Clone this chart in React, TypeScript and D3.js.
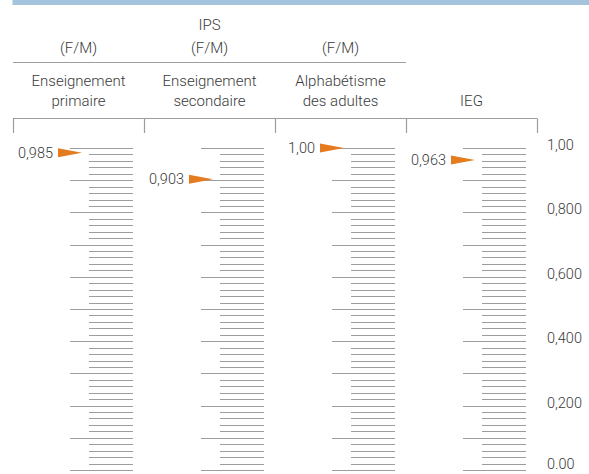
import React from "react";
import * as d3 from "d3";

const width = 589;
const height = 474;

const columns = ["primaire", "secondaire", "alpha", "ieg"];
const columnLabels = [
  ["Enseignement", "primaire"],
  ["Enseignement", "secondaire"],
  ["Alphabétisme", "des adultes"],
  ["IEG"],
];
const values = [0.985, 0.903, 1.0, 0.963];
const valueLabels = ["0,985", "0,903", "1,00", "0,963"];
const axisTicks = [1.0, 0.8, 0.6, 0.4, 0.2, 0];
const axisLabels = ["1,00", "0,800", "0,600", "0,400", "0,200", "0.00"];

const textColor = "#3a3a3a";
const lineColor = "#9d9d9d";
const arrowColor = "#e57b1f";
const fontFamily = "Roboto, 'Liberation Sans', sans-serif";

export default function App() {
  const x = d3.scaleBand().domain(columns).range([13, 537]);
  const y = d3.scaleLinear().domain([0, 1]).range([470, 148]);
  const minorTicks = d3.range(0, 51).map((i) => i / 50);

  return (
    <svg
      width={width}
      height={height}
      style={{ position: "absolute", left: 0, top: 0, background: "#fff" }}
      fontFamily={fontFamily}
    >
      <rect x={12.5} y={0} width={width - 12.5} height={5} fill="#a3c4dc" />

      {/* header */}
      <g fill={textColor} fontSize={15} fontWeight={300} textAnchor="middle">
        <text x={(x("secondaire") ?? 0) + x.bandwidth() / 2} y={30}>
          IPS
        </text>
        {columns.slice(0, 3).map((c) => (
          <text key={c} x={(x(c) ?? 0) + x.bandwidth() / 2} y={53}>
            (F/M)
          </text>
        ))}
        {columns.map((c, i) =>
          columnLabels[i].map((line, j, arr) => (
            <text
              key={c + j}
              x={(x(c) ?? 0) + x.bandwidth() / 2}
              y={106 - (arr.length - 1 - j) * 20}
            >
              {line}
            </text>
          )),
        )}
      </g>
      <line
        x1={13}
        x2={(x("alpha") ?? 0) + x.bandwidth()}
        y1={62.5}
        y2={62.5}
        stroke={lineColor}
        strokeWidth={1.2}
      />

      {/* bracket */}
      <g stroke={lineColor} strokeWidth={1.2} fill="none">
        <line x1={13} x2={537} y1={118.5} y2={118.5} />
        {[...columns.map((c) => x(c) ?? 0), 537].map((px, i) => (
          <line key={i} x1={px + 0.5} x2={px + 0.5} y1={118.5} y2={133} />
        ))}
      </g>

      {/* scales */}
      {columns.map((c, i) => {
        const x0 = x(c) ?? 0;
        const longStart = x0 + 57;
        const shortStart = x0 + 76;
        const end = x0 + 120;
        const tip = longStart + 12;
        const vy = y(values[i]);
        return (
          <g key={c}>
            {minorTicks.map((t, k) => {
              const yy = Math.round(y(t)) + 0.5;
              return (
                <line
                  key={k}
                  x1={k % 5 === 0 ? longStart : shortStart}
                  x2={end}
                  y1={yy}
                  y2={yy}
                  stroke={lineColor}
                  strokeWidth={1.2}
                />
              );
            })}
            <path
              d={`M${tip},${vy} L${tip - 24},${vy - 4.5} L${tip - 24},${vy + 4.5} Z`}
              fill={arrowColor}
            />
            <text
              x={tip - 29}
              y={vy}
              dy="0.35em"
              textAnchor="end"
              fontSize={14.5}
              fontWeight={300}
              fill={textColor}
            >
              {valueLabels[i]}
            </text>
          </g>
        );
      })}

      {/* right axis labels */}
      <g fill={textColor} fontSize={14.5} fontWeight={300}>
        {axisTicks.map((t, i) => (
          <text key={t} x={547} y={y(t) - (t === 0 ? 6 : 3)} dy="0.35em">
            {axisLabels[i]}
          </text>
        ))}
      </g>
    </svg>
  );
}
